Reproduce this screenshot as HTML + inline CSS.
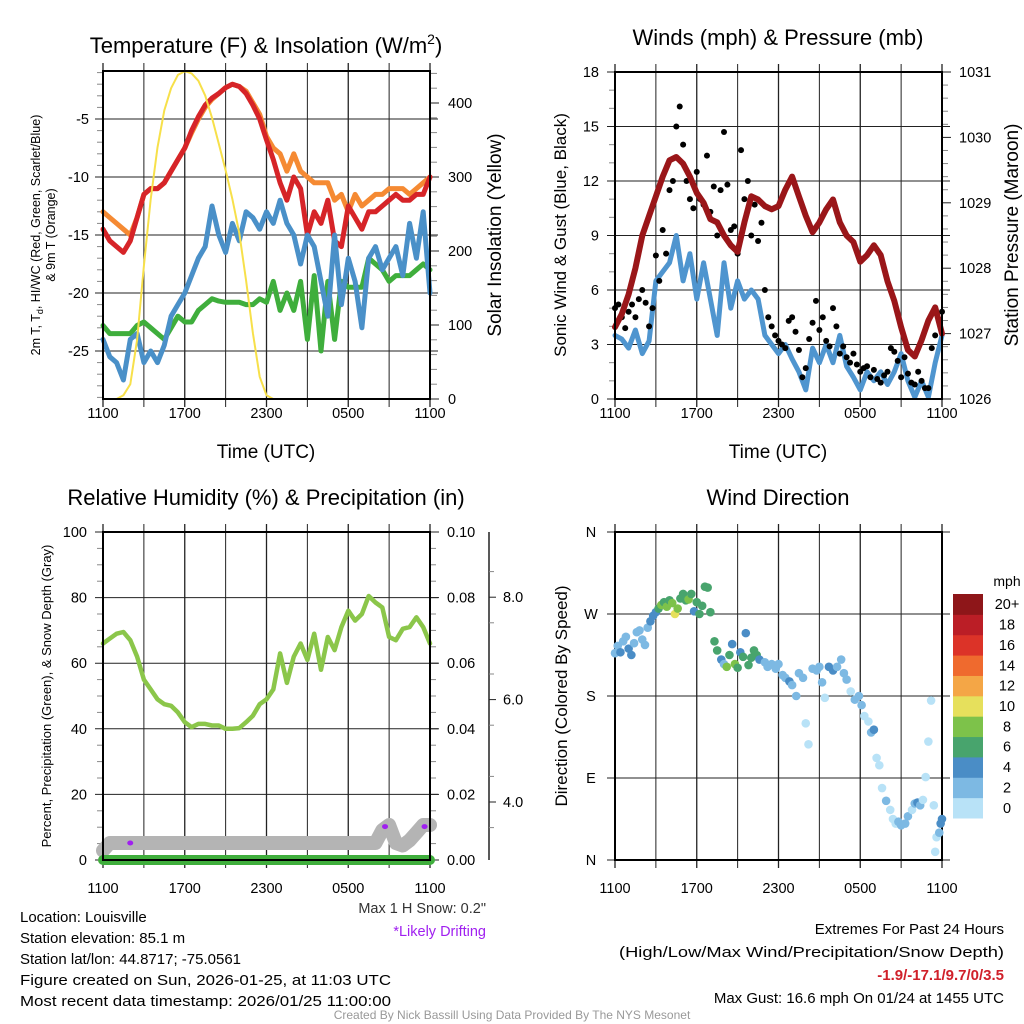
<!DOCTYPE html>
<html><head><meta charset="utf-8"><style>
html,body{margin:0;padding:0;background:#fff;}
svg{display:block;font-family:"Liberation Sans",sans-serif;}
</style></head><body>
<svg id="fig" width="1024" height="1024" viewBox="0 0 1024 1024" xmlns="http://www.w3.org/2000/svg">
<g id="layer"></g>
<text x="266" y="53" font-size="22" text-anchor="middle">Temperature (F) &amp; Insolation (W/m<tspan dy="-9" font-size="14">2</tspan><tspan dy="9">)</tspan></text>
<text x="778" y="45" font-size="22" text-anchor="middle">Winds (mph) &amp; Pressure (mb)</text>
<text x="266" y="505" font-size="22" text-anchor="middle">Relative Humidity (%) &amp; Precipitation (in)</text>
<text x="778" y="505" font-size="22" text-anchor="middle">Wind Direction</text>
<text x="266" y="458" font-size="19" text-anchor="middle">Time (UTC)</text>
<text x="778" y="458" font-size="19" text-anchor="middle">Time (UTC)</text>
<text transform="translate(40,235) rotate(-90)" font-size="12.5" text-anchor="middle">2m T, T<tspan font-size="9" dy="3">d</tspan><tspan dy="-3">, HI/WC (Red, Green, Scarlet/Blue)</tspan></text>
<text transform="translate(55,235) rotate(-90)" font-size="12.5" text-anchor="middle">&amp; 9m T (Orange)</text>
<text transform="translate(501,235) rotate(-90)" font-size="19" text-anchor="middle">Solar Insolation (Yellow)</text>
<text transform="translate(566,235) rotate(-90)" font-size="17" text-anchor="middle">Sonic Wind &amp; Gust (Blue, Black)</text>
<text transform="translate(1018,235) rotate(-90)" font-size="19" text-anchor="middle">Station Pressure (Maroon)</text>
<text transform="translate(51,696) rotate(-90)" font-size="13" text-anchor="middle">Percent, Precipitation (Green), &amp; Snow Depth (Gray)</text>
<text transform="translate(567,696) rotate(-90)" font-size="17" text-anchor="middle">Direction (Colored By Speed)</text>
<text x="1007" y="586" font-size="14" text-anchor="middle">mph</text>
<g font-size="15">
<text x="20" y="922">Location: Louisville</text>
<text x="20" y="943">Station elevation: 85.1 m</text>
<text x="20" y="964">Station lat/lon: 44.8717; -75.0561</text>
<text x="20" y="985" textLength="371" lengthAdjust="spacingAndGlyphs">Figure created on Sun, 2026-01-25, at 11:03 UTC</text>
<text x="20" y="1006" textLength="371" lengthAdjust="spacingAndGlyphs">Most recent data timestamp: 2026/01/25 11:00:00</text>
</g>
<text x="486" y="913" font-size="14.5" fill="#333" text-anchor="end">Max 1 H Snow: 0.2"</text>
<text x="486" y="936" font-size="14.5" fill="#a020f0" text-anchor="end">*Likely Drifting</text>
<g font-size="15" text-anchor="end">
<text x="1004" y="934">Extremes For Past 24 Hours</text>
<text x="1004" y="957" textLength="385" lengthAdjust="spacingAndGlyphs">(High/Low/Max Wind/Precipitation/Snow Depth)</text>
<text x="1004" y="980" font-weight="bold" fill="#d0202a">-1.9/-17.1/9.7/0/3.5</text>
<text x="1004" y="1003">Max Gust: 16.6 mph On 01/24 at 1455 UTC</text>
</g>
<text x="512" y="1019" font-size="12" fill="#999" text-anchor="middle">Created By Nick Bassill Using Data Provided By The NYS Mesonet</text>
</svg>
<script>
// ---- data (half-hourly from 1100 UTC, 49 samples) ----
const hourLabels = ["1100","1700","2300","0500","1100"];
const tempRed = [-14.5,-15.5,-16,-16.5,-15.5,-13.5,-11.5,-11,-11,-10.5,-9.5,-8.5,-7.5,-6,-4.8,-3.8,-3.2,-2.8,-2.3,-2,-2.2,-2.8,-3.8,-5,-6.8,-8.5,-10.5,-12,-10,-11,-15,-13,-14,-12,-15.5,-16,-12.5,-13.5,-14.5,-13,-13,-12.5,-12,-11.5,-12,-12,-11.5,-11.5,-10];
const tempOrange = [-13,-13.5,-14,-14.5,-15,-13.5,-11.5,-11,-11,-10.5,-9.5,-8.5,-7.5,-6.2,-5,-4,-3.3,-2.8,-2.3,-2,-2.2,-2.6,-3.6,-4.6,-6.5,-7.5,-8,-9.5,-8,-9.5,-10,-10.5,-10.5,-10.5,-12,-11.5,-13,-11.5,-12.5,-12,-11.5,-11.5,-11,-11,-11,-11.5,-11,-10.5,-10];
const dewBlue = [-24,-25.5,-26,-27.5,-24,-23.5,-26,-25,-26,-24.5,-22,-21,-20,-18.5,-17,-16,-12.5,-15,-16.5,-14,-15.5,-13,-13.5,-14.5,-13,-14,-12,-14,-15,-17.5,-15,-16,-19,-22,-15,-21,-17,-19,-23,-17,-16,-18,-17,-16,-18.5,-14,-17,-13,-20];
const chillGreen = [-22.8,-23.5,-23.5,-23.5,-23.5,-22.8,-22.5,-23,-23.5,-24,-23,-22,-22.5,-22.5,-21.5,-21,-20.5,-20.7,-20.8,-20.8,-20.8,-21,-21,-20.5,-20.8,-19,-21.5,-20,-21.5,-19,-24,-18.5,-25,-19,-24,-19,-19.5,-19.5,-19.5,-17,-17.5,-18,-19,-18.5,-18.5,-18.5,-18,-17.5,-18];
const solar = [0,0,0,5,20,80,180,270,340,390,420,438,443,440,430,410,380,345,309,270,224,160,89,30,5,0,0,0,0,0,0,0,0,0,0,0,0,0,0,0,0,0,0,0,0,0,0,0,0];
const windSpeed = [3.5,3.3,2.8,3.8,2.5,3.2,6.5,7,7.5,9,6.5,8,5.5,7.5,5.5,3.5,7.5,5,6.5,5.5,6,5.5,3.5,3,2.5,3,2.2,1.5,0.5,2.8,2,3,2,3.5,1.8,1.2,0.5,1.5,1,1.5,0.8,1.5,2.5,1,0.1,1,0.1,2,3.5];
const pressure = [1027.1,1027.3,1027.6,1028.0,1028.5,1028.8,1029.1,1029.4,1029.65,1029.7,1029.6,1029.4,1029.15,1029.0,1028.75,1028.7,1028.5,1028.35,1028.25,1028.7,1029.1,1029.05,1028.95,1028.9,1028.95,1029.2,1029.4,1029.1,1028.8,1028.55,1028.7,1028.9,1029.05,1028.7,1028.5,1028.4,1028.1,1028.2,1028.35,1028.2,1027.8,1027.5,1027.1,1026.75,1026.65,1026.9,1027.2,1027.4,1027.0];
const humidity = [66,67.5,69,69.5,67,62,55,52,49,47.5,47,45,42,40.5,41.5,41.5,41,41,40,40,40.2,42,44,47.5,49,52,63,54,62,66,61,69,58,68,64,71,76,73,75,80.5,78.5,77,68,67,70.5,71,74,71,66];
const snowDepth = [3.05,3.2,3.2,3.2,3.2,3.2,3.2,3.2,3.2,3.2,3.2,3.2,3.2,3.2,3.2,3.2,3.2,3.2,3.2,3.2,3.2,3.2,3.2,3.2,3.2,3.2,3.2,3.2,3.2,3.2,3.2,3.2,3.2,3.2,3.2,3.2,3.2,3.2,3.2,3.2,3.2,3.45,3.55,3.2,3.15,3.25,3.4,3.55,3.55];
const precip = [0,0,0,0,0,0,0,0,0,0,0,0,0,0,0,0,0,0,0,0,0,0,0,0,0,0,0,0,0,0,0,0,0,0,0,0,0,0,0,0,0,0,0,0,0,0,0,0,0];
const driftTimes = [2.0,20.7,23.6];
const driftDepth = [3.2,3.52,3.52];
// gusts every 15 minutes (97 samples)
const gusts = [5,5.2,4.5,3.9, 4.8,5.2,4.5,5.5, 6,5.3,4,5, 7.9,6.5,9.3,8, 11.5,12,15,16.1, 14,12,11,10.5, 12.5,11,10.7,13.4, 10.3,11.7,9,11.5, 14.7,11.8,9.3,9.5, 8,13.7,11,12, 9,10.7,8.7,9.7, 6,4.5,4,3.5, 3.2,3,2.8,4.3, 4.5,3.7,2.7,1.2, 1.7,3.3,4.2,5.4, 3.8,4.5,3.2,2.9, 5,4,2.5,2.9, 2.3,2,2.5,1.9, 1.5,1.7,1.8,1.2, 1.6,1.1,0.9,1.3, 1.5,2.8,2.6,2.1, 1.2,2.3,1.4,0.9, 0.8,1.5,1,0.6, 0.6,2.8,3.5,4.4, 4.8];
// wind direction scatter
const dirTime = [0,0.2,0.4,0.6,0.8,1,1.2,1.4,1.6,1.8,2,2.2,2.4,2.6,2.8,3,3.2,3.4,3.6,3.8,4,4.2,4.4,4.6,4.8,5,5.2,5.4,5.6,5.8,6,6.2,6.4,6.6,6.8,7,7.3,7.5,7.8,8,8.2,8.4,8.6,8.8,9,9.2,9.4,9.6,9.8,10,10.2,10.4,10.6,11,11.2,11.5,11.8,12,12.3,12.5,12.8,13,13.3,13.5,13.8,14,14.2,14.5,14.8,15,15.2,15.4,15.7,16,16.3,16.6,16.8,17,17.3,17.6,17.9,18.1,18.3,18.6,18.8,19,19.2,19.4,19.6,19.9,20.2,20.4,20.6,20.8,21,21.3,21.5,21.8,22,22.2,22.4,22.6,22.8,23,23.2,23.4,23.6,23.8,24,23.9,23.5];
const dirDeg = [227,235,228,240,245,232,225,238,250,252,242,236,255,262,268,272,276,280,283,278,285,282,270,276,287,292,285,286,292,273,283,270,279,300,299,272,240,230,220,215,212,225,237,215,211,228,223,249,214,222,230,225,220,217,212,215,210,215,203,200,196,192,180,205,200,150,127,210,208,212,195,178,212,208,212,220,205,198,185,176,180,170,158,152,140,143,112,104,79,65,55,45,40,42,38,40,48,55,62,63,60,66,91,130,175,60,25,30,45,40,9];
const dirSpeed = [3,2,4,2,3,4,4,3,2,2,3,2,2,4,4,5,6,8,7,8,6,8,10,9,6,6,7,8,6,4,7,6,6,6,6,6,6,6,4,3,8,6,4,8,6,4,6,4,6,6,6,6,4,2,2,2,2,2,2,2,4,2,2,2,2,0,0,2,2,2,2,0,4,4,2,2,2,2,0,2,2,2,0,0,2,4,0,0,0,2,0,0,0,2,2,2,2,0,2,4,2,0,0,0,0,0,0,2,4,4,0];
const legendLabels = ["0","2","4","6","8","10","12","14","16","18","20+"];
const legendColors = ["#b8e2f7","#7db9e3","#4a8dc6","#48a46d","#7dc24a","#e6e05c","#f4a646","#ef6a2e","#dc3328","#bb1e26","#8e1619"];

const NS = "http://www.w3.org/2000/svg";
const L = document.getElementById("layer");
function mk(tag, attrs, parent){const e=document.createElementNS(NS,tag);for(const k in attrs)e.setAttribute(k,attrs[k]);(parent||L).appendChild(e);return e;}
function txt(x,y,s,size,anchor,parent){const e=mk("text",{x:x,y:y,"font-size":size,"text-anchor":anchor||"middle"},parent);e.textContent=s;return e;}

function panel(x0,y0,x1,y1,name){
  const g=mk("g",{});
  
  
  return g;
}
function xAxis(g,x0,x1,y0,y1,ylab){
  for(let h=0;h<=24;h+=3){
    const x=x0+h/24*(x1-x0);
    const ln=mk("line",{x1:x,y1:y0-8,x2:x,y2:y1+8,stroke:"#222","stroke-width":(h%6==0?1.3:1)},g);
    
    
    if(h%6==0){const t=txt(x,ylab,hourLabels[h/6],14.5,"middle",g);
      
      }
  }
}
function hline(g,x0,x1,y,ext){const l=mk("line",{x1:x0-ext,y1:y,x2:x1+ext,y2:y,stroke:"#222","stroke-width":1},g);
  
  }
function tick(g,x,y,len){mk("line",{x1:x,y1:y,x2:x+len,y2:y,stroke:"#888","stroke-width":1},g);}
function frame(g,x0,y0,x1,y1){const r=mk("rect",{x:x0,y:y0,width:x1-x0,height:y1-y0,fill:"none",stroke:"#000","stroke-width":2},g);
  
  }
function path(g,pts,color,w,name){
  const d=pts.map((p,i)=>(i?"L":"M")+p[0].toFixed(1)+","+p[1].toFixed(1)).join("");
  const p=mk("path",{d:d,fill:"none",stroke:color,"stroke-width":w,"stroke-linejoin":"round","stroke-linecap":"round"},g);
  
  
  return p;
}

// ===== Panel 1: temperature =====
(function(){
  const X0=103,X1=430,Y0=71,Y1=399;
  const g=panel(X0,Y0,X1,Y1,"temperature-panel");
  const xs=t=>X0+t/24*(X1-X0);
  const yT=v=>119-(v+5)*11.6;
  const yS=v=>399-v*0.74;
  xAxis(g,X0,X1,Y0,Y1,418);
  [-5,-10,-15,-20,-25].forEach(v=>{hline(g,X0,X1,yT(v),8);const t=txt(X0-14,yT(v)+5,String(v),14.5,"end",g);
    
    });
  for(let v=-29;v<=-1;v++){if(v%5)tick(g,X0-6,yT(v),6);}
  for(let v=0;v<=440;v+=20){if(v%100)tick(g,X1,yS(v),7);else{mk("line",{x1:X1,y1:yS(v),x2:X1+9,y2:yS(v),stroke:"#222"},g);
    const t=txt(X1+18,yS(v)+5,String(v),14.5,"start",g);
    
    }}
  const tt=i=>i*0.5;
  path(g,tempOrange.map((v,i)=>[xs(tt(i)),yT(v)]),"#f58a33",5,"9m-temp-line");
  path(g,tempRed.map((v,i)=>[xs(tt(i)),yT(v)]),"#d62428",5,"2m-temp-line");
  path(g,chillGreen.map((v,i)=>[xs(tt(i)),yT(v)]),"#3fae3c",5,"dewpoint-line");
  path(g,dewBlue.map((v,i)=>[xs(tt(i)),yT(v)]),"#4a90c8",5,"wind-chill-line");
  path(g,solar.map((v,i)=>[xs(tt(i)),yS(v)]),"#f7e04a",2,"insolation-line");
  frame(g,X0,Y0,X1,Y1);
})();

// ===== Panel 2: winds & pressure =====
(function(){
  const X0=615,X1=942,Y0=72,Y1=399;
  const g=panel(X0,Y0,X1,Y1,"winds-panel");
  const xs=t=>X0+t/24*(X1-X0);
  const yW=v=>Y1-v*(Y1-Y0)/18;
  const yP=p=>Y1-(p-1026)*(Y1-Y0)/5;
  xAxis(g,X0,X1,Y0,Y1,418);
  for(let v=0;v<=18;v+=3){hline(g,X0,X1,yW(v),8);const t=txt(X0-16,yW(v)+5,String(v),14.5,"end",g);
    
    }
  for(let v=1;v<18;v++){if(v%3)tick(g,X0-6,yW(v),6);}
  for(let p=1026;p<=1031.001;p+=0.1){const r=Math.round(p*10)/10;
    if(Math.abs(r-Math.round(r))<0.01){mk("line",{x1:X1,y1:yP(r),x2:X1+9,y2:yP(r),stroke:"#222"},g);
      const t=txt(X1+17,yP(r)+5,String(Math.round(r)),14.5,"start",g);
      
      }
    else if(Math.round(r*10)%2==0)tick(g,X1,yP(r),6);}
  path(g,windSpeed.map((v,i)=>[xs(i*0.5),yW(v)]),"#4f95cf",5,"sonic-wind-line");
  gusts.forEach((v,i)=>{const c=mk("circle",{cx:xs(i*0.25),cy:yW(v),r:3,fill:"#000"},g);
    
    });
  path(g,pressure.map((v,i)=>[xs(i*0.5),yP(v)]),"#9a1619",6,"pressure-line");
  frame(g,X0,Y0,X1,Y1);
})();

// ===== Panel 3: humidity / precip / snow =====
(function(){
  const X0=103,X1=430,Y0=532,Y1=860;
  const g=panel(X0,Y0,X1,Y1,"humidity-panel");
  const xs=t=>X0+t/24*(X1-X0);
  const yH=v=>Y1-v*(Y1-Y0)/100;
  const ySn=v=>802-(v-4)*51.2;
  xAxis(g,X0,X1,Y0,Y1,893);
  for(let v=0;v<=100;v+=20){hline(g,X0,X1,yH(v),8);const t=txt(X0-16,yH(v)+5,String(v),14.5,"end",g);
    
    
    mk("line",{x1:X1,y1:yH(v),x2:X1+9,y2:yH(v),stroke:"#222"},g);
    const t2=txt(X1+17,yH(v)+5,(v/1000).toFixed(2),14.5,"start",g);
    
    }
  for(let v=5;v<100;v+=5){if(v%20){tick(g,X0-6,yH(v),6);tick(g,X1,yH(v),6);}}
  mk("line",{x1:489,y1:Y0,x2:489,y2:Y1,stroke:"#222","stroke-width":1.5},g);
  [4,6,8].forEach(v=>{mk("line",{x1:489,y1:ySn(v),x2:496,y2:ySn(v),stroke:"#222"},g);
    const t=txt(503,ySn(v)+5,v.toFixed(1),14.5,"start",g);
    
    });
  [3.5,4.5,5.5,6.5,7.5,8.5].forEach(v=>tick(g,489,ySn(v),5));
  path(g,snowDepth.map((v,i)=>[xs(i*0.5),ySn(v)]),"#b4b4b4",14,"snow-depth-line");
  driftTimes.forEach((t,i)=>{const e=mk("ellipse",{cx:xs(t),cy:ySn(driftDepth[i]),rx:3,ry:2.5,fill:"#a020f0"},g);
    
    });
  path(g,precip.map((v,i)=>[xs(i*0.5),Y1-v*(Y1-Y0)/0.1]),"#3fae3c",10,"precip-line");
  path(g,humidity.map((v,i)=>[xs(i*0.5),yH(v)]),"#8bc64a",4.5,"humidity-line");
  frame(g,X0,Y0,X1,Y1);
})();

// ===== Panel 4: wind direction =====
(function(){
  const X0=615,X1=942,Y0=532,Y1=860;
  const g=panel(X0,Y0,X1,Y1,"direction-panel");
  const xs=t=>X0+t/24*(X1-X0);
  const yD=d=>Y1-d/360*(Y1-Y0);
  xAxis(g,X0,X1,Y0,Y1,893);
  ["N","E","S","W","N"].forEach((s,i)=>{hline(g,X0,X1,yD(i*90),8);const t=txt(X0-24,yD(i*90)+5,s,14.5,"middle",g);
    
    });
  frame(g,X0,Y0,X1,Y1);
  dirTime.forEach((t,i)=>{const k=Math.min(10,Math.floor(dirSpeed[i]/2));
    const c=mk("circle",{cx:xs(t),cy:yD(dirDeg[i]),r:4.3,fill:legendColors[k]},g);
    
    });
  const bh=(818-594)/legendLabels.length;
  legendLabels.forEach((lab,i)=>{const y=818-(i+1)*bh;
    const r=mk("rect",{x:953,y:y,width:30,height:bh+0.5,fill:legendColors[i]},g);
    
    
    const t=txt(1007,y+bh/2+5,lab,14.5,"middle",g);
    
    });
})();
</script>
</body></html>
